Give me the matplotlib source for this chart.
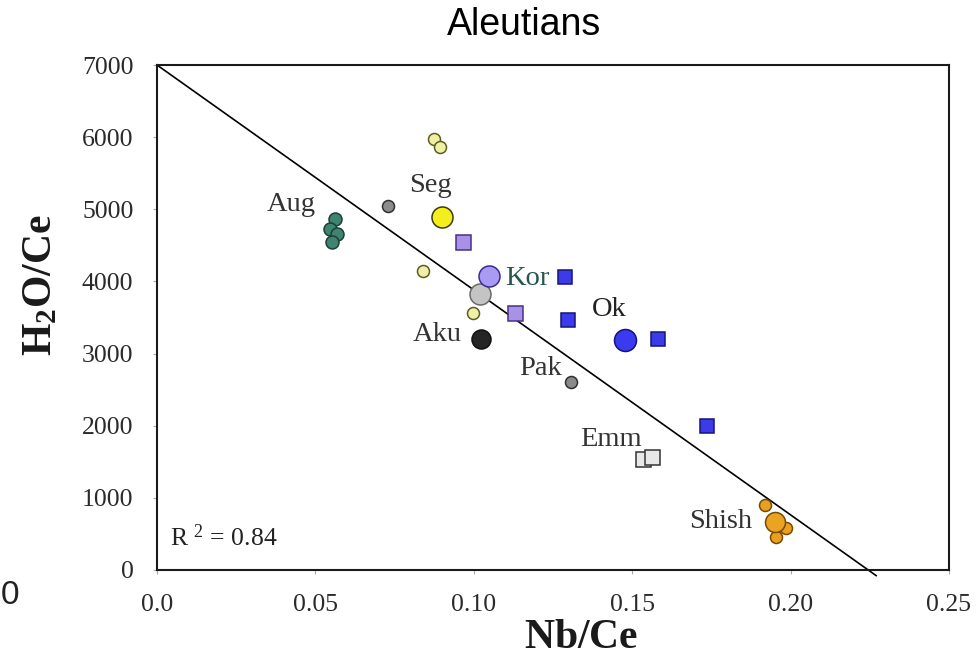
import matplotlib
matplotlib.use("Agg")
import matplotlib.pyplot as plt
import numpy as np

plt.rcParams['mathtext.fontset'] = 'custom'
plt.rcParams['mathtext.rm'] = 'Liberation Serif'
plt.rcParams['mathtext.bf'] = 'Liberation Serif:bold'
plt.rcParams['mathtext.it'] = 'Liberation Serif:italic'

# ---------------- data (Nb/Ce, H2O/Ce) ----------------
aug_x = [0.0562, 0.0546, 0.0568, 0.0552]
aug_y = [4861, 4722, 4653, 4542]

seg_small_x = [0.0874, 0.0893, 0.0840, 0.0997]
seg_small_y = [5972, 5861, 4139, 3569]
seg_big_x = [0.0900]
seg_big_y = [4889]

gray_small_x = [0.0729]
gray_small_y = [5042]

lav_sq_x = [0.0966, 0.1130]
lav_sq_y = [4542, 3569]

kor_x = [0.1048]
kor_y = [4069]

gray_big_x = [0.1020]
gray_big_y = [3819]

aku_x = [0.1023]
aku_y = [3208]

blue_sq_x = [0.1288, 0.1297, 0.1581, 0.1736]
blue_sq_y = [4056, 3472, 3208, 2000]

ok_x = [0.1477]
ok_y = [3194]

pak_x = [0.1307]
pak_y = [2611]

emm_x = [0.1534, 0.1563]
emm_y = [1542, 1569]

shish_small_x = [0.1919, 0.1985, 0.1954]
shish_small_y = [903, 583, 458]
shish_big_x = [0.1951]
shish_big_y = [667]

fit_intercept = 7000
fit_slope = -31180
fit_x_end = 0.2270
r2_text = 'R $^{2}$ = 0.84'

x_ticks = [0.0, 0.05, 0.10, 0.15, 0.20, 0.25]
x_tick_labels = ['0.0', '0.05', '0.10', '0.15', '0.20', '0.25']
y_ticks = [0, 1000, 2000, 3000, 4000, 5000, 6000, 7000]
y_tick_labels = ['0', '1000', '2000', '3000', '4000', '5000', '6000', '7000']

group_labels = ['Aug', 'Seg', 'Kor', 'Ok', 'Aku', 'Pak', 'Emm', 'Shish']
# label anchor positions (layout)
label_pos = [(0.0423, 5069), (0.0862, 5333), (0.1168, 4042), (0.1427, 3611),
             (0.0884, 3264), (0.1212, 2792), (0.1433, 1806), (0.1780, 667)]
label_colors = ['#333333', '#333333', '#24574c', '#222222',
                '#333333', '#333333', '#333333', '#333333']

# ---------------- figure ----------------
fig = plt.figure(figsize=(9.78, 6.62), dpi=100)
ax = fig.add_axes([157/978, 1-570/662, 792/978, 505/662])
ax.set_xlim(0, 0.25)
ax.set_ylim(0, 7000)

# fit line
lx = np.array([0.0, fit_x_end])
ax.plot(lx, fit_intercept + fit_slope * lx, color='black', lw=1.2, clip_on=False, zorder=2)

def circ(x, y, d_px, fc, ec, z=3):
    ax.plot(x, y, 'o', ms=d_px*0.72, mfc=fc, mec=ec, mew=1.1, ls='none', zorder=z)

def sq(x, y, d_px, fc, ec, z=3):
    ax.plot(x, y, 's', ms=d_px*0.72, mfc=fc, mec=ec, mew=1.1, ls='none', zorder=z)

circ(aug_x, aug_y, 13, '#3e8470', '#1d3f35')
circ(seg_small_x, seg_small_y, 12, '#eef0a8', '#5d5d1c')
circ(seg_big_x, seg_big_y, 21, '#f4ef1c', '#3a3a10')
circ(gray_small_x, gray_small_y, 12, '#8c8c8c', '#303030')
sq(lav_sq_x, lav_sq_y, 15, '#a892e6', '#4a2f86')
circ(gray_big_x, gray_big_y, 21, '#c4c4c4', '#6a6a6a', z=3)
circ(kor_x, kor_y, 21, '#a99af2', '#3a2a96', z=4)
circ(aku_x, aku_y, 19, '#252525', '#101010')
sq(blue_sq_x, blue_sq_y, 14, '#3b3bea', '#14147a')
circ(ok_x, ok_y, 22, '#3a3af0', '#14147a')
circ(pak_x, pak_y, 12, '#8a8a8a', '#303030')
sq(emm_x, emm_y, 15, '#e8e8e8', '#333333')
circ(shish_small_x, shish_small_y, 12, '#e8a020', '#7a4a00')
circ(shish_big_x, shish_big_y, 20, '#eba322', '#7a4a00', z=4)

for t, (lxp, lyp), c in zip(group_labels, label_pos, label_colors):
    ax.text(lxp, lyp, t, ha='center', va='center', fontsize=20.5,
            family='Liberation Serif', color=c, zorder=5)

ax.text(0.0041, 444, r2_text, ha='left', va='center', fontsize=18.5,
        family='Liberation Serif', color='#222222')

# axes styling
for s in ax.spines.values():
    s.set_linewidth(1.5)
    s.set_color('#1a1a1a')
ax.set_xticks(x_ticks)
ax.set_xticklabels(x_tick_labels)
ax.set_yticks(y_ticks)
ax.set_yticklabels(y_tick_labels)
ax.tick_params(direction='out', length=3, width=0.8, color='#aaaaaa',
               labelsize=18.5, labelcolor='#2a2a2a', pad=14)
for lab in ax.get_xticklabels() + ax.get_yticklabels():
    lab.set_family('Liberation Serif')

ax.set_xlabel(r'$\mathbf{Nb/Ce}$', fontsize=30, color='#1a1a1a')
ax.set_ylabel(r'$\mathbf{H_2O/Ce}$', fontsize=30, color='#1a1a1a')
ax.xaxis.label.set_va('center')
ax.yaxis.label.set_va('center')
ax.xaxis.set_label_coords((581-157)/792, (570-636)/505)
ax.yaxis.set_label_coords((39-157)/792, (570-285)/505)

fig.text(524/978, 1-25/662, 'Aleutians', ha='center', va='center',
         fontsize=27, family='Liberation Sans', color='black')
fig.text(1/978, 1-595/662, '0', ha='left', va='center',
         fontsize=24, family='Liberation Sans', color='#222222')

fig.savefig('out.png', dpi=100)
